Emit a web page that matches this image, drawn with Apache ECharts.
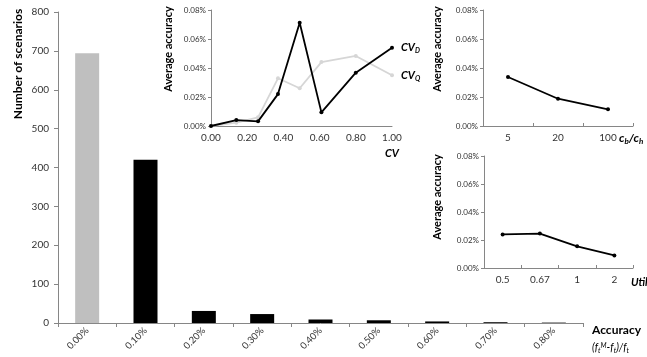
<!DOCTYPE html>
<html><head><meta charset="utf-8">
<script src="https://cdn.jsdelivr.net/npm/echarts@6/dist/echarts.min.js"></script>
<style>html,body{margin:0;padding:0;background:#fff}#c{width:647px;height:357px}</style>
</head><body><div id="c"></div>
<script>
// Histogram of scenario accuracy
const accuracyBins = ['0.00%', '0.10%', '0.20%', '0.30%', '0.40%', '0.50%', '0.60%', '0.70%', '0.80%'];
const scenarioCounts = [694, 420, 31, 23, 9, 7, 4, 2, 1];
const countTicks = [0, 800, 100];

// Average accuracy (%) versus coefficient of variation
const cvLevels = [0, 0.14, 0.26, 0.37, 0.49, 0.61, 0.80, 1.00];
const cvDemandAcc = [0, 0.0041, 0.0032, 0.022, 0.0712, 0.0094, 0.0368, 0.054];
const cvQuantityAcc = [0, 0.0023, 0.006, 0.0329, 0.026, 0.0441, 0.0483, 0.035];

// Average accuracy (%) versus cost ratio
const costRatios = ['5', '20', '100'];
const costRatioAcc = [0.0338, 0.0188, 0.0115];

// Average accuracy (%) versus utilization
const utilLevels = ['0.5', '0.67', '1', '2'];
const utilAcc = [0.024, 0.0246, 0.0155, 0.009];

const FONT = 'Lato';
const AXIS = '#868686';
const TEXT = '#333333';

const pct = v => v.toFixed(2) + '%';

function insetY(gridIndex) {
  return {
    type: 'value', gridIndex, min: 0, max: 0.08, interval: 0.02,
    axisLine: { show: true, lineStyle: { color: AXIS, width: 1 } },
    axisTick: { show: true, length: 3, lineStyle: { color: AXIS } },
    splitLine: { show: false },
    axisLabel: { formatter: pct, fontFamily: FONT, fontSize: 8, color: TEXT, margin: 5 }
  };
}
function insetCatX(gridIndex, data) {
  return {
    type: 'category', gridIndex, data, boundaryGap: true,
    axisLine: { lineStyle: { color: AXIS, width: 1 } },
    axisTick: { show: true, inside: true, length: 3, lineStyle: { color: AXIS } },
    axisLabel: { fontFamily: FONT, fontSize: 10, color: TEXT, margin: 7 }
  };
}
const lineCommon = {
  symbol: 'circle', symbolSize: 4, showSymbol: true, animation: false,
  lineStyle: { width: 1.8, color: '#000' }, itemStyle: { color: '#000' }
};

const endRich = {
  m: { fontFamily: FONT, fontSize: 11, fontWeight: 'bold', fontStyle: 'italic', color: '#000' },
  s: { fontFamily: FONT, fontSize: 7, fontWeight: 'bold', fontStyle: 'italic', color: '#000', padding: [6, 0, 0, 0] }
};

const chart = echarts.init(document.getElementById('c'), null, { renderer: 'canvas' });
chart.setOption({
  backgroundColor: '#fff',
  animation: false,
  grid: [
    { left: 58, right: 64, top: 12, bottom: 34 },
    { left: 211, right: 255, top: 10, bottom: 231 },
    { left: 483, right: 14, top: 10, bottom: 231 },
    { left: 484, right: 14, top: 156, bottom: 89 }
  ],
  xAxis: [
    {
      type: 'category', gridIndex: 0, data: accuracyBins,
      axisLine: { lineStyle: { color: AXIS, width: 1 } },
      axisTick: { show: true, length: 4, lineStyle: { color: AXIS } },
      axisLabel: { rotate: 45, fontFamily: FONT, fontSize: 9.5, color: TEXT, margin: 6 }
    },
    {
      type: 'value', gridIndex: 1, min: 0, max: 1, interval: 0.2,
      axisLine: { show: true, onZero: false, lineStyle: { color: AXIS, width: 1 } },
      axisTick: { show: false },
      splitLine: { show: false },
      axisLabel: { formatter: v => v.toFixed(2), fontFamily: FONT, fontSize: 10, color: TEXT, margin: 7 }
    },
    insetCatX(2, costRatios),
    insetCatX(3, utilLevels)
  ],
  yAxis: [
    {
      type: 'value', gridIndex: 0, min: countTicks[0], max: countTicks[1], interval: countTicks[2],
      axisLine: { show: true, lineStyle: { color: AXIS, width: 1 } },
      axisTick: { show: true, length: 4, lineStyle: { color: AXIS } },
      splitLine: { show: false },
      axisLabel: { fontFamily: FONT, fontSize: 10, color: TEXT, margin: 9 }
    },
    insetY(1), insetY(2), insetY(3)
  ],
  series: [
    {
      type: 'bar', xAxisIndex: 0, yAxisIndex: 0, data: scenarioCounts, barWidth: 24,
      itemStyle: { color: p => (p.dataIndex === 0 ? '#bfbfbf' : '#000') }
    },
    Object.assign({}, lineCommon, {
      type: 'line', xAxisIndex: 1, yAxisIndex: 1, z: 2,
      data: cvLevels.map((x, i) => [x, cvQuantityAcc[i]]),
      lineStyle: { width: 1.8, color: '#d6d6d6' }, itemStyle: { color: '#d6d6d6' },
      endLabel: { show: true, distance: 9, formatter: '{m|CV}{s|Q}', rich: endRich }
    }),
    Object.assign({}, lineCommon, {
      type: 'line', xAxisIndex: 1, yAxisIndex: 1, z: 3,
      data: cvLevels.map((x, i) => [x, cvDemandAcc[i]]),
      endLabel: { show: true, distance: 9, formatter: '{m|CV}{s|D}', rich: endRich }
    }),
    Object.assign({}, lineCommon, {
      type: 'line', xAxisIndex: 2, yAxisIndex: 2, data: costRatioAcc
    }),
    Object.assign({}, lineCommon, {
      type: 'line', xAxisIndex: 3, yAxisIndex: 3, data: utilAcc
    })
  ],
  graphic: [
    { type: 'text', x: 18, y: 64, rotation: Math.PI / 2,
      style: { text: 'Number of scenarios', align: 'center', verticalAlign: 'middle',
        font: 'bold 12px ' + FONT, fill: '#000' } },
    { type: 'text', x: 168, y: 49, rotation: Math.PI / 2,
      style: { text: 'Average accuracy', align: 'center', verticalAlign: 'middle',
        font: 'bold 11px ' + FONT, fill: '#000' } },
    { type: 'text', x: 437, y: 49, rotation: Math.PI / 2,
      style: { text: 'Average accuracy', align: 'center', verticalAlign: 'middle',
        font: 'bold 11px ' + FONT, fill: '#000' } },
    { type: 'text', x: 437, y: 197, rotation: Math.PI / 2,
      style: { text: 'Average accuracy', align: 'center', verticalAlign: 'middle',
        font: 'bold 11px ' + FONT, fill: '#000' } },
    { type: 'text', x: 392, y: 153,
      style: { text: 'CV', align: 'center', verticalAlign: 'middle',
        font: 'italic bold 11px ' + FONT, fill: '#000' } },
    { type: 'text', x: 619, y: 138,
      style: { text: '{i|c}{s|b}{i|/c}{s|h}', align: 'left', verticalAlign: 'middle',
        rich: {
          i: { font: 'italic bold 12px ' + FONT, fill: '#000' },
          s: { font: 'italic bold 8px ' + FONT, fill: '#000', padding: [6, 0, 0, 0] }
        } } },
    { type: 'text', x: 631, y: 282,
      style: { text: 'Utilization', align: 'left', verticalAlign: 'middle',
        font: 'italic bold 11px ' + FONT, fill: '#000' } },
    { type: 'text', x: 592, y: 330,
      style: { text: 'Accuracy', align: 'left', verticalAlign: 'middle',
        font: 'bold 12px ' + FONT, fill: '#000' } },
    { type: 'text', x: 592, y: 348,
      style: { text: '{n|(f}{b|t}{p|M}{n|-f}{b|t}{n|)/f}{b|t}', align: 'left', verticalAlign: 'middle',
        rich: {
          n: { font: 'italic 10.5px ' + FONT, fill: '#000' },
          b: { font: 'italic 7px ' + FONT, fill: '#000', padding: [5, 0, 0, 0] },
          p: { font: 'italic 7px ' + FONT, fill: '#000', padding: [0, 0, 5, 0] }
        } } }
  ]
});
</script>
</body></html>
